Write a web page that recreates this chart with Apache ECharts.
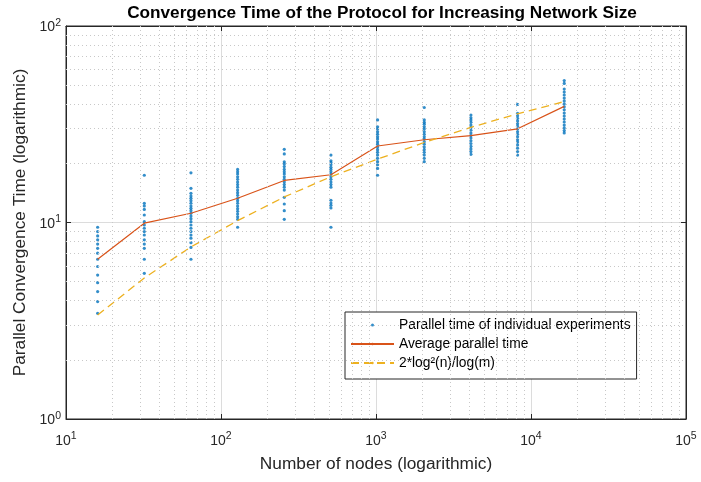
<!DOCTYPE html>
<html>
<head>
<meta charset="utf-8">
<script src="https://cdn.jsdelivr.net/npm/echarts@6/dist/echarts.min.js"></script>
<style>
html,body{margin:0;padding:0;background:#fff;}
#chart{width:701px;height:482px;}
</style>
</head>
<body>
<div id="chart"></div>
<script>
// ---- data ----
const nodeCounts = [16, 32, 64, 128, 256, 512, 1024, 2048, 4096, 8192, 16384];
const avgTime = [6.50, 9.92, 11.14, 13.29, 16.37, 17.5, 24.51, 26.37, 27.7, 29.98, 38.99];
const boundTime = [3.38, 5.22, 7.51, 10.22, 13.49, 17.09, 21.01, 25.54, 30.5, 35.74, 41.25];
const runs16 = [9.46, 8.99, 8.54, 8.16, 7.77, 7.39, 6.98, 6.50, 5.97, 5.40, 4.94, 4.45, 3.96, 3.45];
const runs32 = [17.4, 12.53, 12.14, 11.66, 10.92, 10.10, 9.71, 9.35, 8.99, 8.64, 8.16, 7.77, 7.39, 6.50, 5.51];
const runs64 = [17.9, 14.92, 14.07, 13.63, 13.29, 12.91, 12.53, 12.13, 11.81, 11.48, 11.14, 10.79, 10.46, 10.10, 9.71, 9.35, 8.99, 8.64, 8.32, 7.89, 7.47, 6.50];
const runs128 = [18.62, 18.11, 17.65, 17.09, 16.58, 16.06, 15.6, 15.13, 14.62, 14.18, 13.75, 13.29, 12.91, 12.53, 12.13, 11.76, 11.4, 11.04, 10.7, 10.38, 9.46];
const runs256 = [23.57, 22.34, 20.38, 19.87, 19.25, 18.62, 18.11, 17.65, 17.09, 16.58, 16.06, 15.6, 15.13, 14.62, 13.43, 12.42, 11.48, 10.38];
const runs512 = [22.03, 20.59, 20.18, 19.67, 19.1, 18.62, 18.11, 17.65, 17.09, 16.58, 16.06, 15.6, 15.13, 12.98, 12.57, 12.24, 11.86, 9.46];
const runs1024 = [33.28, 30.7, 29.88, 28.95, 28.12, 27.29, 26.57, 25.75, 25.03, 24.2, 23.48, 22.76, 22.03, 21.21, 20.39, 19.67, 18.84, 17.4];
const runs2048 = [38.47, 33.28, 32.36, 31.64, 30.7, 29.88, 28.95, 28.12, 27.29, 26.57, 25.75, 25.03, 24.2, 23.48, 22.76, 22.03, 21.21, 20.39];
const runs4096 = [35.23, 34.1, 33.28, 32.36, 31.33, 30.4, 29.48, 28.54, 27.7, 26.88, 26.06, 25.23, 24.41, 23.69, 22.96, 22.24];
const runs8192 = [39.91, 35.95, 34.93, 33.9, 32.87, 31.84, 30.92, 29.88, 28.95, 28.12, 27.29, 26.37, 25.65, 24.82, 23.89, 22.96, 22.03];
const runs16384 = [52.77, 51.0, 47.77, 46.1, 44.56, 43.0, 41.57, 40.13, 38.79, 37.45, 36.05, 34.82, 33.6, 32.46, 31.33, 30.3, 29.38, 28.56];
const xTickExponents = [1, 2, 3, 4, 5];
const yTickExponents = [0, 1, 2];

const titleText = 'Convergence Time of the Protocol for Increasing Network Size';
const xName = 'Number of nodes (logarithmic)';
const yName = 'Parallel Convergence Time (logarithmic)';
const legendNames = ['Parallel time of individual experiments', 'Average parallel time', '2*log\u00B2(n)/log(m)'];

// ---- build ----
const allRuns = [runs16, runs32, runs64, runs128, runs256, runs512, runs1024, runs2048, runs4096, runs8192, runs16384];
const scatterData = [];
allRuns.forEach((arr, i) => arr.forEach(v => scatterData.push([nodeCounts[i], v])));
const avgData = nodeCounts.map((n, i) => [n, avgTime[i]]);
const boundData = nodeCounts.map((n, i) => [n, boundTime[i]]);

// minor grid positions (2..9 within each decade)
function minors(lowExp, highExp) {
  const out = [];
  for (let e = lowExp; e < highExp; e++) {
    for (let m = 2; m <= 9; m++) out.push(m * Math.pow(10, e));
  }
  return out;
}
const xMinor = minors(xTickExponents[0], xTickExponents[xTickExponents.length - 1]);
const yMinor = minors(yTickExponents[0], yTickExponents[yTickExponents.length - 1]);

const FONT = 'Liberation Sans, Arial, Helvetica, sans-serif';
const AX = '#262626';

function powLabel(v) {
  const e = Math.round(Math.log10(v));
  return '{b|10}{s|' + e + '}';
}
const richPow = {
  b: { fontSize: 14, fontFamily: FONT, color: AX, verticalAlign: 'bottom' },
  s: { fontSize: 10.5, fontFamily: FONT, color: AX, verticalAlign: 'bottom', padding: [0, 0, 6, 0] }
};

const chart = echarts.init(document.getElementById('chart'), null, { renderer: 'canvas' });

const xMin = Math.pow(10, xTickExponents[0]), xMax = Math.pow(10, xTickExponents[xTickExponents.length - 1]);
const yMin = Math.pow(10, yTickExponents[0]), yMax = Math.pow(10, yTickExponents[yTickExponents.length - 1]);

const option = {
  backgroundColor: '#ffffff',
  animation: false,
  title: {
    text: titleText,
    left: 377, top: 0, textAlign: 'center',
    textStyle: { fontFamily: FONT, fontSize: 17.2, fontWeight: 'bold', color: '#000' }
  },
  grid: { left: 66, right: 15, top: 26, bottom: 63, show: true, borderColor: AX, borderWidth: 1, backgroundColor: 'transparent' },
  legend: {
    orient: 'vertical',
    left: 345, top: 312,
    padding: [5, 6, 8, 5],
    itemGap: 3,
    itemWidth: 43, itemHeight: 3,
    backgroundColor: '#fff',
    borderColor: AX, borderWidth: 1, borderRadius: 0,
    textStyle: { fontFamily: FONT, fontSize: 13.8, lineHeight: 16, color: '#000' },
    data: legendNames
  },
  xAxis: [{
    type: 'log', logBase: 10, min: xMin, max: xMax,
    name: xName, nameLocation: 'middle', nameGap: 37,
    nameTextStyle: { fontFamily: FONT, fontSize: 17.3, color: AX },
    axisLine: { show: true, lineStyle: { color: AX } },
    axisTick: { show: true, inside: true, length: 5, lineStyle: { color: AX } },
    axisLabel: { formatter: powLabel, rich: richPow, margin: 12 },
    splitLine: { show: true, lineStyle: { color: '#dcdcdc', width: 1 } }
  }, {
    type: 'log', logBase: 10, min: xMin, max: xMax, position: 'top',
    axisLine: { show: true, lineStyle: { color: AX } },
    axisTick: { show: true, inside: true, length: 5, lineStyle: { color: AX } },
    axisLabel: { show: false }, splitLine: { show: false }
  }],
  yAxis: [{
    type: 'log', logBase: 10, min: yMin, max: yMax,
    name: yName, nameLocation: 'middle', nameGap: 33, nameRotate: 90,
    nameTextStyle: { fontFamily: FONT, fontSize: 17.3, color: AX },
    axisLine: { show: true, lineStyle: { color: AX } },
    axisTick: { show: true, inside: true, length: 5, lineStyle: { color: AX } },
    axisLabel: { formatter: powLabel, rich: richPow, margin: 5 },
    splitLine: { show: true, lineStyle: { color: '#dcdcdc', width: 1 } }
  }, {
    type: 'log', logBase: 10, min: yMin, max: yMax, position: 'right',
    axisLine: { show: true, lineStyle: { color: AX } },
    axisTick: { show: true, inside: true, length: 5, lineStyle: { color: AX } },
    axisLabel: { show: false }, splitLine: { show: false }
  }],
  series: [
    {
      name: '_grid', type: 'line', data: [], z: 1, silent: true,
      markLine: {
        silent: true, symbol: 'none', animation: false,
        label: { show: false },
        lineStyle: { color: '#c8c8c8', type: [1, 3], width: 1 },
        data: xMinor.map(v => ({ xAxis: v })).concat(yMinor.map(v => ({ yAxis: v })))
      }
    },
    {
      name: legendNames[0], type: 'scatter', data: scatterData,
      symbol: 'circle', symbolSize: 3.2,
      itemStyle: { color: '#0072BD' }, z: 3
    },
    {
      name: legendNames[1], type: 'line', data: avgData,
      showSymbol: false, symbol: 'none',
      lineStyle: { color: '#D95319', width: 1.2 },
      itemStyle: { color: '#D95319' }, z: 4
    },
    {
      name: legendNames[2], type: 'line', data: boundData,
      showSymbol: false, symbol: 'none',
      lineStyle: { color: '#EDB120', width: 1.3, type: [8, 5] },
      itemStyle: { color: '#EDB120' }, z: 4
    }
  ]
};
chart.setOption(option);
</script>
</body>
</html>
